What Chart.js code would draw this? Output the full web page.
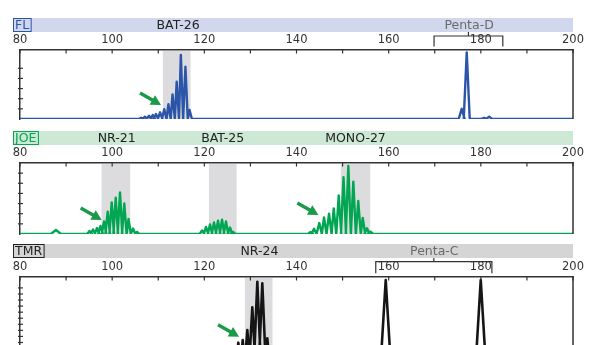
<!DOCTYPE html>
<html>
<head>
<meta charset="utf-8">
<script src="https://cdn.jsdelivr.net/npm/chart.js@4.4.1/dist/chart.umd.min.js"></script>
<style>
    html, body { margin: 0; padding: 0; background: #fff; overflow: hidden; width: 592px; height: 345px; }
    .panel { position: absolute; left: 0; width: 592px; }
</style>
</head>
<body>
<div class="panel" style="top:0;height:122px"><canvas id="fl"></canvas></div>
<div class="panel" style="top:122px;height:115px"><canvas id="joe"></canvas></div>
<div class="panel" style="top:238px;height:156px"><canvas id="tmr"></canvas></div>
<script>
// ---- du lieu doc tu hinh (bp = kich thuoc, rfu = cuong do) ----
const xTickLabels = [80, 100, 120, 140, 160, 180, 200];

// FL (xanh duong)
const bat26Bp  = [106.3, 107.1, 108.0, 108.8, 109.5, 110.4, 111.3, 112.2, 113.1, 114.0, 114.9, 115.9, 116.8];
const bat26Rfu = [13, 23, 33, 39, 49, 66, 96, 145, 243, 367, 631, 515, 89];
const pentaDBp  = [175.85, 176.94, 180.7, 181.8];
const pentaDRfu = [100, 657, 12, 23];
const flLoci    = ['BAT-26', 'Penta-D'];
const flLociBp  = [114.3, 177.45];
const flShade   = [[111, 117]];
const flBracket = [[169.85, 184.77]];
const flArrows  = [[110.6, 138]];

// JOE (xanh la)
const joeBumpBp  = [87.8];
const joeBumpRfu = [39];
const nr21Bp  = [95.08, 95.84, 96.71, 97.47, 98.23, 99.03, 99.9, 100.77, 101.7, 102.63, 103.55, 104.52, 105.39];
const nr21Rfu = [30, 44, 59, 79, 123, 220, 311, 357, 409, 301, 148, 54, 20];
const bat25Bp  = [119.5, 120.36, 121.23, 122.1, 122.97, 123.84, 124.7, 125.57, 126.22];
const bat25Rfu = [35, 69, 94, 113, 131, 141, 123, 64, 20];
const mono27Bp  = [143.04, 143.8, 144.95, 145.97, 147.06, 148.08, 149.16, 150.2, 151.25, 152.33, 153.4, 154.37, 155.3, 156.06];
const mono27Rfu = [20, 52, 108, 163, 200, 253, 380, 559, 671, 516, 325, 158, 56, 23];
const joeLoci   = ['NR-21', 'BAT-25', 'MONO-27'];
const joeLociBp = [100.98, 123.99, 152.81];
const joeShade  = [[97.7, 103.9], [121, 127], [149.6, 156]];
const joeArrows = [[97.73, 138], [144.74, 187]];

// TMR (den)
const nr24Bp  = [127.37, 128.33, 129.33, 130.41, 131.5, 132.58, 133.67, 134.6];
const nr24Rfu = [797, 841, 1006, 1380, 1802, 1776, 869, 726];
const pentaCBp  = [159.36, 179.98];
const pentaCRfu = [1830, 1830];
const tmrLoci   = ['NR-24', 'Penta-C'];
const tmrLociBp = [131.97, 169.91];
const tmrShade  = [[128.8, 134.8]];
const tmrBracket = [[157.2, 182.4]];
const tmrArrows = [[127.53, 895]];

const FONT = "'DejaVu Sans', sans-serif";
const AXIS = '#333';
const ARROW = '#1b9a4a';
const SHADE = '#dcdcde';
const GRAY_LOCI = ['Penta-D', 'Penta-C'];

// Tao duong tin hieu tu danh sach dinh
function buildTrace(groups) {
    const pts = [{ x: 80, y: 0 }];
    groups.forEach(g => {
        g.bp.forEach((b, i) => {
            pts.push({ x: b - g.hw, y: 0 }, { x: b, y: g.rfu[i] }, { x: b + g.hw, y: 0 });
        });
    });
    pts.push({ x: 200, y: 0 });
    return pts;
}

function drawArrow(ctx, tx, ty) {
    const dx = 21, dy = 12;
    const len = Math.hypot(dx, dy);
    const ux = dx / len, uy = dy / len;
    const head = 10, half = 5.5;
    const bx = tx - ux * head, by = ty - uy * head;
    ctx.strokeStyle = ARROW;
    ctx.lineWidth = 3.4;
    ctx.beginPath();
    ctx.moveTo(tx - dx, ty - dy);
    ctx.lineTo(bx + ux, by + uy);
    ctx.stroke();
    ctx.fillStyle = ARROW;
    ctx.beginPath();
    ctx.moveTo(tx, ty);
    ctx.lineTo(bx - uy * half, by + ux * half);
    ctx.lineTo(bx + uy * half, by - ux * half);
    ctx.closePath();
    ctx.fill();
}

function line(ctx, x1, y1, x2, y2) {
    ctx.beginPath();
    ctx.moveTo(x1, y1);
    ctx.lineTo(x2, y2);
    ctx.stroke();
}

function makePanel(cfg) {
    const ctx = document.getElementById(cfg.id).getContext('2d');

    const panelPlugin = {
        id: 'panelDeco',
        beforeDatasetsDraw(chart) {
            const c = chart.ctx, a = chart.chartArea, xs = chart.scales.x;
            c.save();
            c.fillStyle = SHADE;
            cfg.shade.forEach(r => {
                const x1 = xs.getPixelForValue(r[0]), x2 = xs.getPixelForValue(r[1]);
                c.fillRect(x1, a.top + 1, x2 - x1, a.bottom - a.top - 1);
            });
            c.restore();
        },
        afterDraw(chart) {
            const c = chart.ctx, a = chart.chartArea, xs = chart.scales.x, ys = chart.scales.y;
            c.save();

            // dai tieu de
            c.fillStyle = cfg.band;
            c.fillRect(13, cfg.bandTop, a.right - 13, cfg.bandH);
            const midY = cfg.bandTop + cfg.bandH / 2 + 0.5;

            // nhan thuoc nhuom (co khung)
            c.font = '12.5px ' + FONT;
            c.textBaseline = 'middle';
            c.textAlign = 'left';
            const tw = c.measureText(cfg.dye).width;
            c.fillStyle = cfg.dyeColor;
            c.fillText(cfg.dye, 15, midY);
            c.strokeStyle = cfg.dyeColor;
            c.lineWidth = 1;
            c.strokeRect(13.5, cfg.bandTop + 0.5, tw + 3.5, cfg.bandH - 1);

            // ten locus
            c.font = '12.5px ' + FONT;
            c.textAlign = 'center';
            cfg.loci.forEach((name, i) => {
                c.fillStyle = GRAY_LOCI.includes(name) ? '#6b6b6b' : '#222';
                c.fillText(name, xs.getPixelForValue(cfg.lociBp[i]), midY);
            });

            // ngoac
            c.strokeStyle = '#333';
            c.lineWidth = 1.2;
            (cfg.bracket || []).forEach(b => {
                const x1 = xs.getPixelForValue(b[0]), x2 = xs.getPixelForValue(b[1]);
                const xm = (x1 + x2) / 2;
                const by = cfg.bracketY;
                c.beginPath();
                c.moveTo(x1, cfg.bracketEnd);
                c.lineTo(x1, by);
                c.lineTo(x2, by);
                c.lineTo(x2, cfg.bracketEnd);
                c.stroke();
                line(c, xm, cfg.bandTop + cfg.bandH, xm, by);
            });

            // vach chia truc x
            c.strokeStyle = AXIS;
            c.lineWidth = 1.2;
            xs.ticks.forEach(t => {
                const px = xs.getPixelForValue(t.value);
                line(c, px, a.top - 1, px, a.top + 3.5);
            });
            // vach chia truc y
            ys.ticks.forEach(t => {
                if (t.value > 0 && t.value < cfg.max && t.value % 100 === 0) {
                    const py = ys.getPixelForValue(t.value);
                    line(c, a.left - 2, py, a.left + 3, py);
                }
            });
            // vien phai
            c.lineWidth = 1.5;
            line(c, a.right, a.top, a.right, a.bottom);

            // mui ten
            cfg.arrows.forEach(p => {
                drawArrow(c, xs.getPixelForValue(p[0]), ys.getPixelForValue(p[1]));
            });
            c.restore();
        }
    };

    return new Chart(ctx, {
        type: 'line',
        data: {
            datasets: [{
                data: buildTrace(cfg.groups),
                borderColor: cfg.color,
                borderWidth: cfg.lineW,
                borderJoinStyle: 'round',
                pointRadius: 0,
                tension: 0,
                fill: false
            }]
        },
        options: {
            responsive: true,
            maintainAspectRatio: false,
            animation: false,
            layout: { padding: { left: 20, right: 19, top: 0, bottom: 3 } },
            plugins: { legend: { display: false }, tooltip: { enabled: false } },
            scales: {
                x: {
                    type: 'linear',
                    position: 'top',
                    min: 80,
                    max: 200,
                    afterFit: s => { s.height = cfg.axisH; },
                    grid: { drawOnChartArea: false, drawTicks: false },
                    border: { display: true, color: AXIS, width: 1.5 },
                    ticks: {
                        stepSize: 10,
                        autoSkip: false,
                        maxRotation: 0,
                        padding: 3,
                        color: AXIS,
                        font: { family: FONT, size: 11.5 },
                        callback: v => xTickLabels.includes(v) ? String(v) : ''
                    }
                },
                y: {
                    min: 0,
                    max: cfg.max,
                    afterFit: s => { s.width = 0; },
                    grid: { drawOnChartArea: false, drawTicks: false },
                    border: { display: true, color: AXIS, width: 1.5 },
                    ticks: { display: false, stepSize: 100 }
                }
            }
        },
        plugins: [panelPlugin]
    });
}

makePanel({
    id: 'fl', max: 680, axisH: 50, bandTop: 18, bandH: 14,
    band: '#d1d8ed', dye: 'FL', dyeColor: '#2b55a8',
    color: '#2b55a8', lineW: 2.4,
    groups: [{ bp: bat26Bp, rfu: bat26Rfu, hw: 0.5 }, { bp: pentaDBp, rfu: pentaDRfu, hw: 0.65 }],
    loci: flLoci, lociBp: flLociBp, shade: flShade, arrows: flArrows,
    bracket: flBracket, bracketY: 36, bracketEnd: 46.5
});

makePanel({
    id: 'joe', max: 700, axisH: 41, bandTop: 9, bandH: 14,
    band: '#cde8d5', dye: 'JOE', dyeColor: '#00a651',
    color: '#00a651', lineW: 2.4,
    groups: [{ bp: joeBumpBp, rfu: joeBumpRfu, hw: 1.1 }, { bp: nr21Bp, rfu: nr21Rfu, hw: 0.5 },
             { bp: bat25Bp, rfu: bat25Rfu, hw: 0.5 }, { bp: mono27Bp, rfu: mono27Rfu, hw: 0.55 }],
    loci: joeLoci, lociBp: joeLociBp, shade: joeShade, arrows: joeArrows
});

makePanel({
    id: 'tmr', max: 1880, axisH: 39, bandTop: 6, bandH: 14,
    band: '#d5d5d5', dye: 'TMR', dyeColor: '#222',
    color: '#151515', lineW: 2.6,
    groups: [{ bp: nr24Bp, rfu: nr24Rfu, hw: 1.0 }, { bp: pentaCBp, rfu: pentaCRfu, hw: 1.45 }],
    loci: tmrLoci, lociBp: tmrLociBp, shade: tmrShade, arrows: tmrArrows,
    bracket: tmrBracket, bracketY: 23.7, bracketEnd: 35.3
});
</script>
</body>
</html>
